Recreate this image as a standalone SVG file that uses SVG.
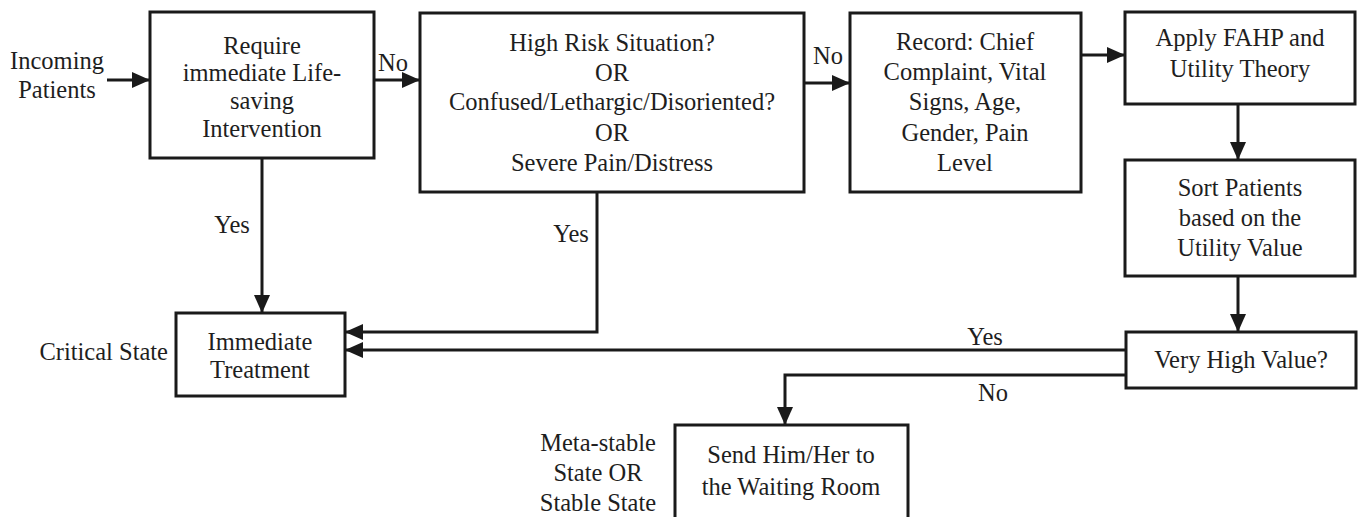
<svg xmlns="http://www.w3.org/2000/svg" width="1369" height="517" viewBox="0 0 1369 517">
<style>
.box{fill:#fff;stroke:#1a1a1a;stroke-width:3}
.t{font-family:"Liberation Serif","Times New Roman",serif;font-size:24.5px;fill:#1e1e1e;text-anchor:middle}
.r{text-anchor:end}
.c{fill:none;stroke:#1a1a1a;stroke-width:3}
</style>
<defs>
<marker id="ah" markerUnits="userSpaceOnUse" markerWidth="18" markerHeight="16" refX="18" refY="8" orient="auto">
<path d="M0,0 L18,8 L0,16 z" fill="#1a1a1a"/>
</marker>
</defs>
<rect width="1369" height="517" fill="#fff"/>
<g id="connectors">
<path class="c" d="M107,80 H150" marker-end="url(#ah)"/>
<path class="c" d="M374,80 H420" marker-end="url(#ah)"/>
<path class="c" d="M804,83 H850" marker-end="url(#ah)"/>
<path class="c" d="M1081,55 H1125" marker-end="url(#ah)"/>
<path class="c" d="M1238,104 V160" marker-end="url(#ah)"/>
<path class="c" d="M1238,276 V332" marker-end="url(#ah)"/>
<path class="c" d="M262,158 V313" marker-end="url(#ah)"/>
<path class="c" d="M597,192 V332 H345" marker-end="url(#ah)"/>
<path class="c" d="M1126,350 H345" marker-end="url(#ah)"/>
<path class="c" d="M1126,375 H785 V425" marker-end="url(#ah)"/>
<text class="t" x="393" y="71">No</text>
<text class="t" x="828" y="64">No</text>
<text class="t" x="232" y="233">Yes</text>
<text class="t" x="571" y="242">Yes</text>
<text class="t" x="985" y="345">Yes</text>
<text class="t" x="993" y="401">No</text>
</g>
<g id="incoming">
<text class="t" x="57" y="69">Incoming</text>
<text class="t" x="57" y="98">Patients</text>
</g>
<g id="require">
<rect class="box" x="150" y="12" width="224" height="146"/>
<text class="t" x="262" y="54">Require</text>
<text class="t" x="262" y="81">immediate Life-</text>
<text class="t" x="262" y="109">saving</text>
<text class="t" x="262" y="137">Intervention</text>
</g>
<g id="highrisk">
<rect class="box" x="420" y="13" width="384" height="179"/>
<text class="t" x="612" y="51">High Risk Situation?</text>
<text class="t" x="612" y="81">OR</text>
<text class="t" x="612" y="110">Confused/Lethargic/Disoriented?</text>
<text class="t" x="612" y="141">OR</text>
<text class="t" x="612" y="171">Severe Pain/Distress</text>
</g>
<g id="record">
<rect class="box" x="850" y="13" width="231" height="179"/>
<text class="t" x="965" y="50">Record: Chief</text>
<text class="t" x="965" y="80">Complaint, Vital</text>
<text class="t" x="965" y="110">Signs, Age,</text>
<text class="t" x="965" y="141">Gender, Pain</text>
<text class="t" x="965" y="171">Level</text>
</g>
<g id="fahp">
<rect class="box" x="1125" y="12" width="230" height="92"/>
<text class="t" x="1240" y="46">Apply FAHP and</text>
<text class="t" x="1240" y="77">Utility Theory</text>
</g>
<g id="sort">
<rect class="box" x="1125" y="160" width="230" height="116"/>
<text class="t" x="1240" y="196">Sort Patients</text>
<text class="t" x="1240" y="226">based on the</text>
<text class="t" x="1240" y="256">Utility Value</text>
</g>
<g id="veryhigh">
<rect class="box" x="1126" y="332" width="230" height="56"/>
<text class="t" x="1241" y="368">Very High Value?</text>
</g>
<g id="immediate">
<rect class="box" x="176" y="313" width="169" height="83"/>
<text class="t" x="260" y="350">Immediate</text>
<text class="t" x="260" y="378">Treatment</text>
<text class="t r" x="168" y="360">Critical State</text>
</g>
<g id="waiting">
<rect class="box" x="675" y="425" width="233" height="100"/>
<text class="t" x="791" y="463">Send Him/Her to</text>
<text class="t" x="791" y="495">the Waiting Room</text>
<text class="t" x="598" y="451">Meta-stable</text>
<text class="t" x="598" y="481">State OR</text>
<text class="t" x="598" y="511">Stable State</text>
</g>
</svg>
